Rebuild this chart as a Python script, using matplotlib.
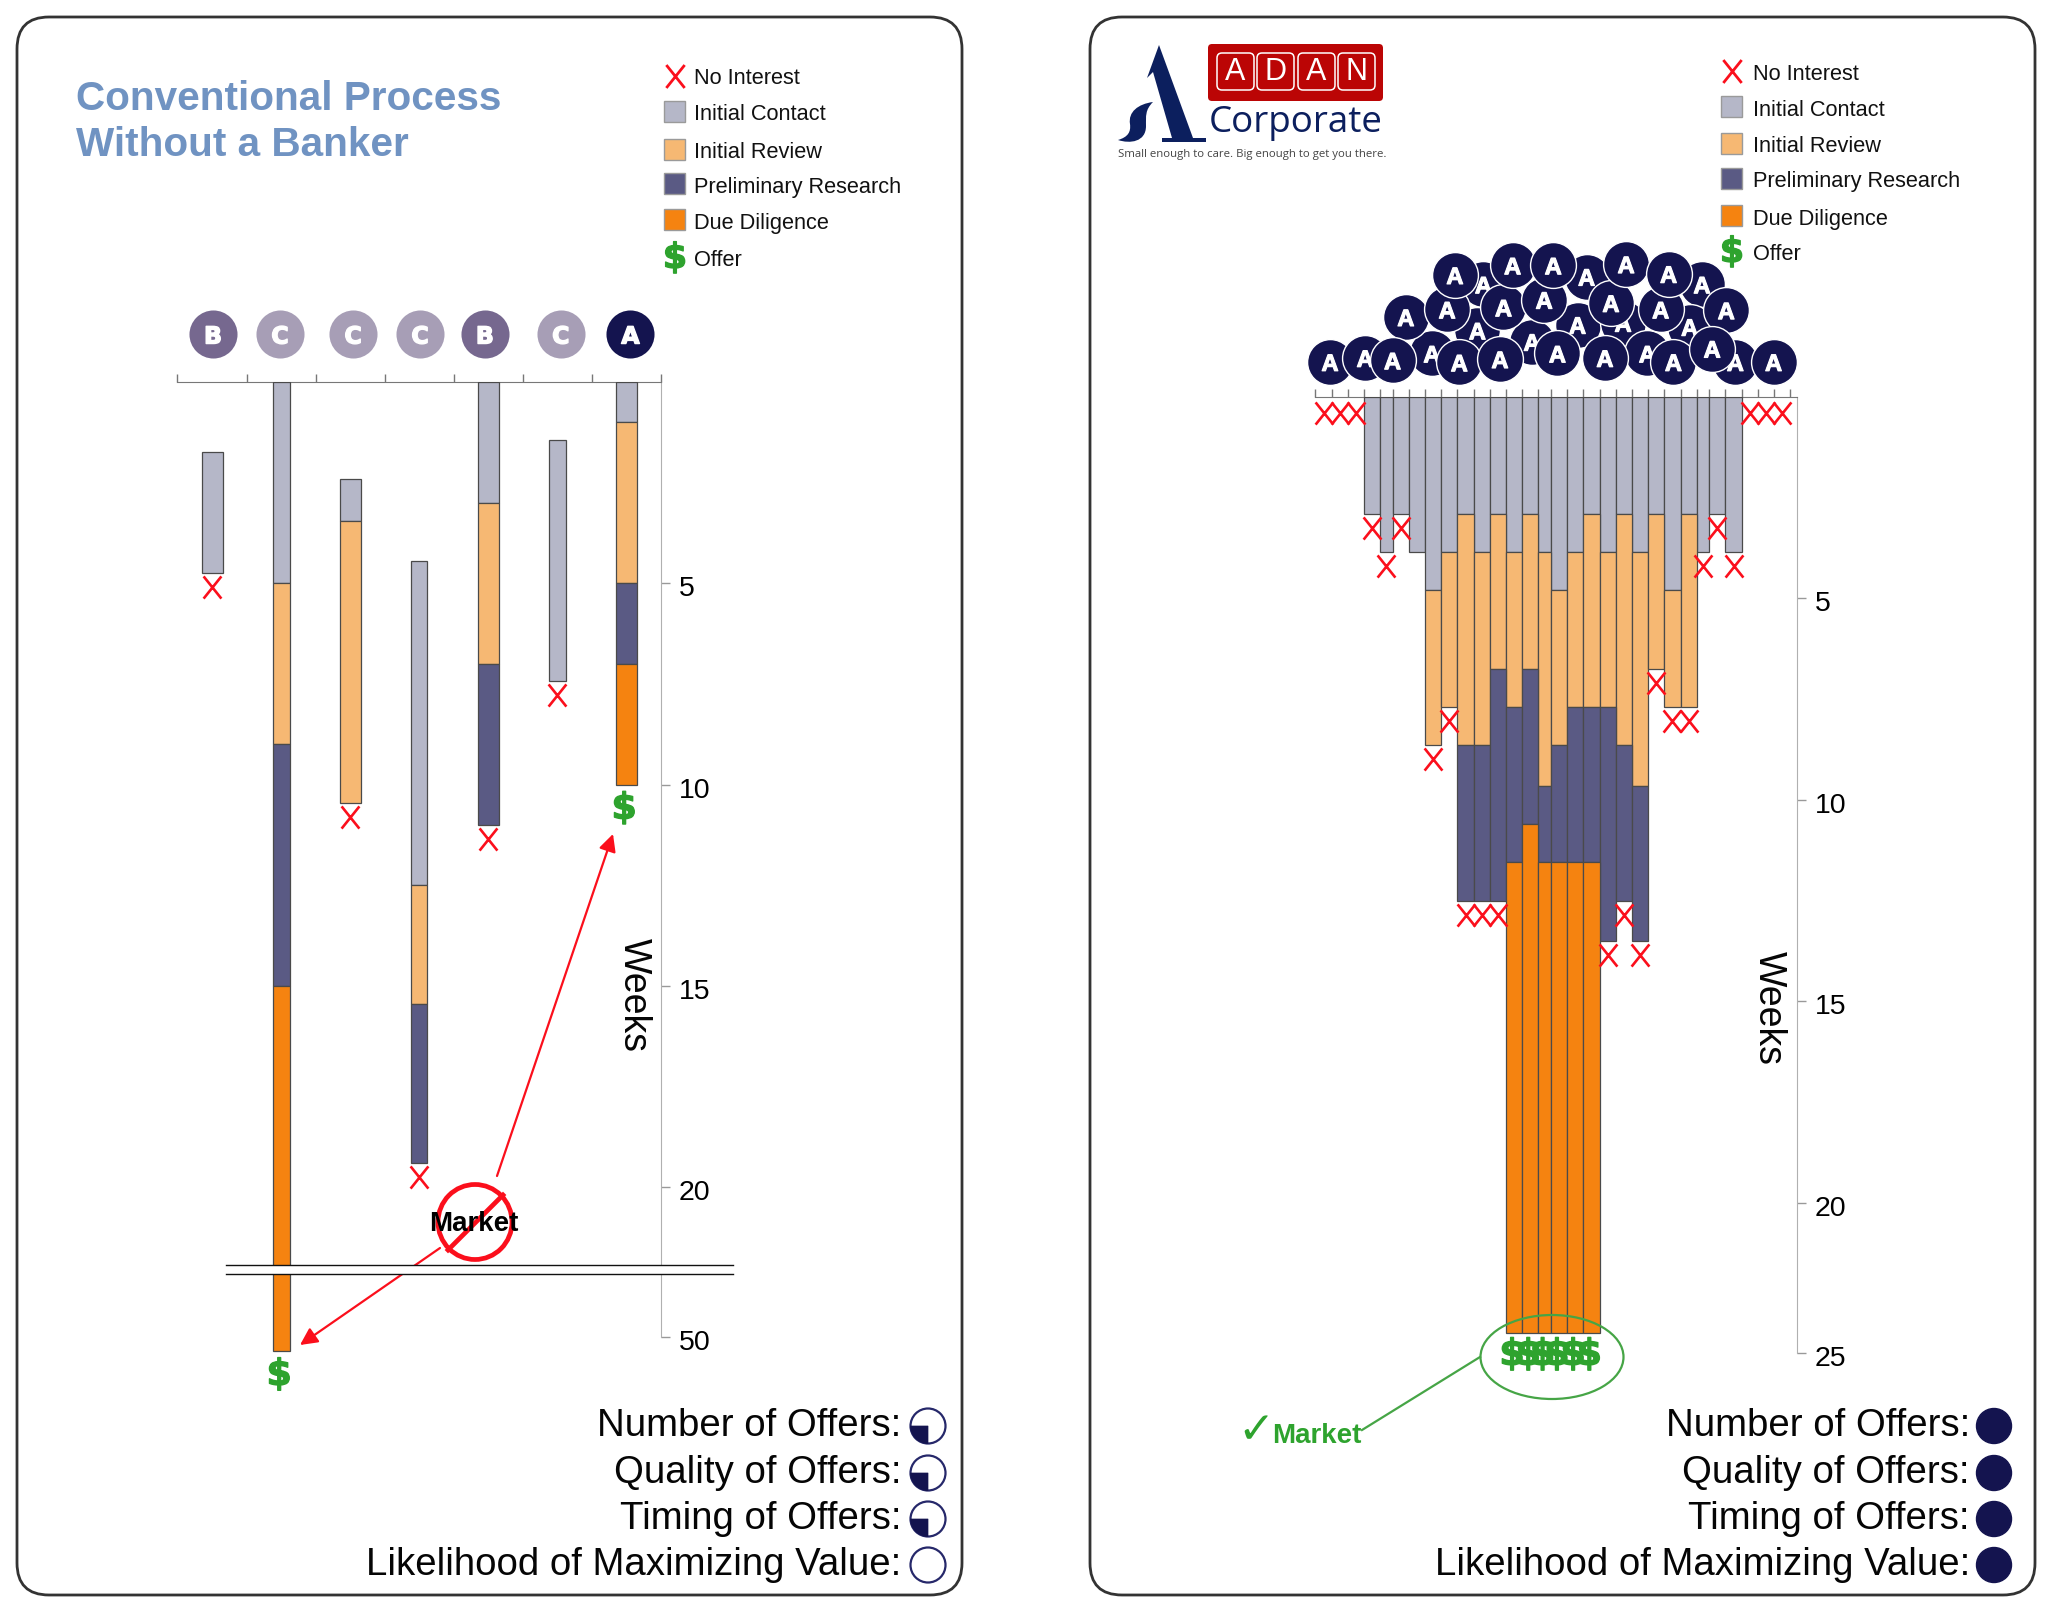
"""Conventional process vs. banker-run process: deal timelines per buyer."""

import matplotlib
matplotlib.use("Agg")
import matplotlib.patheffects as pe
import matplotlib.pyplot as plt
import numpy as np
from matplotlib.patches import Ellipse, FancyBboxPatch, PathPatch, Polygon, Rectangle, Wedge
from matplotlib.path import Path
from matplotlib.transforms import ScaledTranslation

plt.rcParams["font.family"] = ["Liberation Sans", "DejaVu Sans"]

W, H = 2050, 1620

IC_COL, IR_COL, PR_COL, DD_COL = "#b5b7c8", "#f6b873", "#5a5a84", "#f58310"
NAVY = "#14144f"
GREEN = "#2ea32e"
RED = "#fb0f1c"
STAGE_COLS = [IC_COL, IR_COL, PR_COL, DD_COL]
X_MARK = Path([(-0.8, -1), (0.8, 1), (-0.8, 1), (0.8, -1)],
              [Path.MOVETO, Path.LINETO, Path.MOVETO, Path.LINETO])

# ── Left panel data (weeks) ───────────────────────────────────────────────────

left_grades = ["B", "C", "C", "C", "B", "C", "A"]
left_grade_x = [0.01, 0.98, 2.04, 3.01, 3.95, 5.05, 6.06]
left_start = [1.75, 0, 2.4, 4.45, 0, 1.43, 0]
left_ic_end = [4.75, 5, 3.45, 12.5, 3, 7.42, 1]
left_ir_end = [np.nan, 9, 10.45, 15.45, 7, np.nan, 5]
left_pr_end = [np.nan, 15, np.nan, 19.4, 11, np.nan, 7]
left_dd_end = [np.nan, 55, np.nan, np.nan, np.nan, np.nan, 10]
left_result = ["x", "$", "x", "x", "x", "x", "$"]
left_ticks = [5, 10, 15, 20, 50]

# ── Right panel data (weeks) ──────────────────────────────────────────────────

right_start = [0] * 24
right_ic_end = [2.9, 3.85, 2.9, 3.85, 4.8, 3.85, 2.9, 3.85, 2.9, 3.85, 2.9, 3.85,
                4.8, 3.85, 2.9, 3.85, 2.9, 3.85, 2.9, 4.8, 2.9, 3.85, 2.9, 3.85]
right_ir_end = [np.nan, np.nan, np.nan, np.nan, 8.65, 7.7, 8.65, 8.65, 6.75, 7.7, 6.75, 9.65,
                8.65, 7.7, 7.7, 7.7, 8.65, 9.65, 6.75, 7.7, 7.7, np.nan, np.nan, np.nan]
right_pr_end = [np.nan, np.nan, np.nan, np.nan, np.nan, np.nan, 12.5, 12.5, 12.5, 11.55, 10.6, 11.55,
                11.55, 11.55, 11.55, 13.5, 12.5, 13.5, np.nan, np.nan, np.nan, np.nan, np.nan, np.nan]
right_dd_end = [np.nan] * 9 + [24.33] * 6 + [np.nan] * 9
right_result = ["x", "x", "x", "", "x", "x", "x", "x", "x", "$", "$", "$",
                "$", "$", "$", "x", "x", "x", "x", "x", "x", "x", "x", "x"]
right_ticks = [5, 10, 15, 20, 25]

# buyers who passed straight away, either side of the bars
right_pass_left = [0.5, 1.5, 2.5]
right_pass_right = [26.83, 27.83, 28.83]

# buyer badges over the right chart: slot position, weeks above the axis
head_x = [10.37, 16.74, 23.86, 10.0, 13.37, 16.18, 18.99, 23.1, 7.19, 20.49, 25.92,
          5.58, 8.13, 11.61, 14.12, 18.24, 21.31, 25.36,
          8.61, 12.17, 14.68, 19.18, 21.8,
          0.9, 3.07, 4.76, 8.88, 11.39, 14.94, 17.87, 22.1, 24.49, 28.28]
head_y = [-2.78, -2.97, -2.78, -1.64, -1.36, -1.78, -1.83, -1.73, -1.07, -1.07, -0.86,
          -1.97, -2.16, -2.21, -2.4, -2.32, -2.16, -2.14,
          -3.01, -3.25, -3.25, -3.28, -3.04,
          -0.86, -0.96, -0.9, -0.85, -0.93, -1.07, -0.96, -0.86, -1.19, -0.86]

legend_labels = ["No Interest", "Initial Contact", "Initial Review",
                 "Preliminary Research", "Due Diligence", "Offer"]
score_labels = ["Number of Offers:", "Quality of Offers:", "Timing of Offers:",
                "Likelihood of Maximizing Value:"]
left_scores = [0.25, 0.25, 0.25, 0]
right_scores = [1, 1, 1, 1]


# ── Helpers ───────────────────────────────────────────────────────────────────

def px_axes(fig, x0, x1, y0, y1):
    return fig.add_axes([x0 / W, 1 - y1 / H, (x1 - x0) / W, (y1 - y0) / H])


def heavy(col, lw=1.0):
    return [pe.withStroke(linewidth=lw, foreground=col)]


def draw_stages(ax, xs, widths, start, *ends):
    bottoms = np.array(start, dtype=float)
    for col, end in zip(STAGE_COLS, ends):
        end = np.array(end, dtype=float)
        ok = ~np.isnan(end)
        ax.bar(np.array(xs)[ok], end[ok] - bottoms[ok], bottom=bottoms[ok], width=np.array(widths)[ok],
               color=col, edgecolor="#4a4a4a", linewidth=0.9, zorder=3)
        bottoms[ok] = end[ok]
    return bottoms


def draw_results(fig, ax, xs, ends, results, x_gap=10, s_gap=22):
    x_off = ax.transData + ScaledTranslation(0, -x_gap / 100, fig.dpi_scale_trans)
    for x, end, res in zip(xs, ends, results):
        if res == "x":
            ax.plot(x, end, marker=X_MARK, ms=16, mew=1.9, color=RED, mfc="none", ls="none",
                    transform=x_off, clip_on=False, zorder=6)
        elif res == "$":
            ax.annotate("$", (x, end), xytext=(-1.5, -s_gap * 0.72), textcoords="offset points",
                        ha="center", va="center", fontsize=26, fontweight="bold",
                        family="DejaVu Sans", color=GREEN, annotation_clip=False, zorder=6,
                        path_effects=heavy(GREEN))


def style_axis(fig, ax, ticks, top_ticks):
    for name in ["left", "bottom"]:
        ax.spines[name].set_visible(False)
    ax.patch.set_alpha(0)
    ax.spines["top"].set_color("#777777")
    ax.spines["right"].set_color("#b0b0b0")
    ax.spines["right"].set_bounds(0, ticks[-1])
    ax.xaxis.tick_top()
    ax.yaxis.tick_right()
    ax.set_xticks(top_ticks)
    ax.set_xticklabels([])
    ax.tick_params(axis="x", length=6, width=1, color="#777777", direction="out")
    ax.set_yticks(ticks)
    ax.set_yticklabels([str(t) for t in ticks])
    ax.tick_params(axis="y", length=6.5, width=1, color="#999999", labelsize=20.5, pad=6.5)
    ax.minorticks_off()
    nudge = ScaledTranslation(0, -3 / 100, fig.dpi_scale_trans)
    for lab in ax.get_yticklabels():
        lab.set_transform(lab.get_transform() + nudge)


def draw_legend(bg, mx, tx, rows):
    bg.plot(mx, rows[0], marker=X_MARK, ms=16.5, mew=2, color=RED, mfc="none", ls="none")
    for y, col in zip(rows[1:5], STAGE_COLS):
        bg.add_patch(Rectangle((mx - 11, y - 11), 21, 21, fc=col, ec="#9a9a9a", lw=1))
    bg.text(mx, rows[5], "$", color=GREEN, ha="center", va="center", fontsize=25,
            fontweight="bold", family="DejaVu Sans", path_effects=heavy(GREEN))
    for y, lab in zip(rows, legend_labels):
        bg.text(tx, y + 3, lab, ha="left", va="center", fontsize=15.7, color="#111111")


def draw_scores(bg, tx, cx, scores):
    rows = [1426, 1473, 1519, 1565]
    for y, lab, score in zip(rows, score_labels, scores):
        bg.text(tx, y, lab, ha="right", va="center", fontsize=27.6, color="#050505")
        if score >= 1:
            bg.add_patch(Ellipse((cx, y), 35, 35, fc=NAVY, ec=NAVY, lw=1))
            continue
        bg.add_patch(Ellipse((cx, y), 35, 35, fc="white", ec="#26286a", lw=1.6))
        if score > 0:
            bg.add_patch(Wedge((cx, y), 17.5, 90, 90 + 360 * score, fc=NAVY, ec=NAVY, lw=0.5))


def draw_logo(bg):
    bg.add_patch(FancyBboxPatch((1210, 46), 171, 53, boxstyle="round,pad=2,rounding_size=4",
                                fc="#bb0505", ec="none"))
    for cell_x, letter in zip([1217, 1257, 1298, 1338], "ADAN"):
        bg.add_patch(FancyBboxPatch((cell_x + 3, 56), 31, 31, boxstyle="round,pad=3,rounding_size=5",
                                    fc="#bb0505", ec="white", lw=1.1))
        bg.text(cell_x + 18.5, 72, letter, color="white", ha="center", va="center", fontsize=22)
    logo_navy = "#0c1f5e"
    bg.add_patch(Polygon([(1159, 45), (1193, 138), (1206, 138), (1206, 142), (1162, 142), (1162, 138),
                          (1172, 138), (1153, 72), (1147, 78)], fc=logo_navy, ec="none"))
    swoosh = Path([(1153, 102), (1138, 104), (1128, 112), (1130, 124), (1131, 132), (1128, 137), (1118, 140),
                   (1130, 144), (1146, 142), (1146, 126), (1146, 116), (1145, 110), (1153, 102)],
                  [Path.MOVETO] + [Path.CURVE4] * 12)
    bg.add_patch(PathPatch(swoosh, fc=logo_navy, ec="none"))
    bg.text(1209, 132, "Corporate", color=logo_navy, ha="left", va="baseline", fontsize=26.5,
            family="Open Sans")
    bg.text(1118, 154, "Small enough to care. Big enough to get you there.", color="#444444",
            ha="left", va="center", fontsize=8.2, family="Open Sans")


# ── Figure ────────────────────────────────────────────────────────────────────

fig = plt.figure(figsize=(W / 100, H / 100), dpi=100, facecolor="white")

bg = px_axes(fig, 0, W, 0, H)
bg.set_xlim(0, W)
bg.set_ylim(H, 0)
bg.axis("off")
for x0 in [17, 1090]:
    bg.add_patch(FancyBboxPatch((x0 + 32, 49), 945 - 64, 1578 - 64,
                                boxstyle="round,pad=32,rounding_size=32",
                                fc="white", ec="#333333", lw=2))

# left chart
ax_l = px_axes(fig, 177, 661, 382, 1365)
knots_l_w = [-10, 0, 22, 50, 60]
knots_l_px = [-403, 0, 886, 955, 983]
ax_l.set_yscale("function", functions=(lambda v: np.interp(v, knots_l_w, knots_l_px),
                                       lambda p: np.interp(p, knots_l_px, knots_l_w)))
xs_l = np.arange(len(left_grades))
widths_l = np.array([21, 17.5, 21, 16, 21, 17, 21]) / 69
ends_l = draw_stages(ax_l, xs_l, widths_l, left_start, left_ic_end, left_ir_end, left_pr_end, left_dd_end)
ax_l.set_xlim(-0.512, 6.503)
ax_l.set_ylim(60, 0)
style_axis(fig, ax_l, left_ticks, np.r_[-0.512, np.arange(0.5, 6.6, 1)])
draw_results(fig, ax_l, xs_l, ends_l, left_result, x_gap=14, s_gap=24)
grade_cols = {"A": NAVY, "B": "#76688f", "C": "#a79eb6"}
for x, grade in zip(left_grade_x, left_grades):
    ax_l.scatter(x, -1.19, s=1197, color=grade_cols[grade], linewidths=0, clip_on=False, zorder=5)
    ax_l.text(x, -1.19, grade, color="white", ha="center", va="center_baseline", fontsize=17,
              fontweight="bold", family="DejaVu Sans", clip_on=False, zorder=6,
              path_effects=heavy("white"))

# right chart
ax_r = px_axes(fig, 1315.4, 1797, 396.6, 1453)
knots_r_w = [-10, 0, 20, 25, 30]
knots_r_px = [-404, 0, 806, 956, 1056]
ax_r.set_yscale("function", functions=(lambda v: np.interp(v, knots_r_w, knots_r_px),
                                       lambda p: np.interp(p, knots_r_px, knots_r_w)))
widths_r = np.ones(24)
widths_r[[1, 11, 21]] = 0.77
edges_r = 3 + np.r_[0, np.cumsum(widths_r)]
xs_r = edges_r[:-1] + widths_r / 2
ends_r = draw_stages(ax_r, xs_r, widths_r, right_start, right_ic_end, right_ir_end, right_pr_end, right_dd_end)
ax_r.set_xlim(0, (1797 - 1315.4) / 16.2)
ax_r.set_ylim(30, 0)
top_r = np.r_[0, 1, 2, edges_r, edges_r[-1] + 1, edges_r[-1] + 2, edges_r[-1] + 3]
style_axis(fig, ax_r, right_ticks, top_r)
draw_results(fig, ax_r, xs_r, ends_r, right_result, x_gap=14, s_gap=22)
ax_r.plot(right_pass_left + right_pass_right, [0] * 6, marker=X_MARK, ms=16, mew=1.9, color=RED, mfc="none",
          ls="none", transform=ax_r.transData + ScaledTranslation(0, -16 / 100, fig.dpi_scale_trans),
          clip_on=False, zorder=6)
for i, (x, y) in enumerate(zip(head_x, head_y)):
    ax_r.scatter(x, y, s=1090, color=NAVY, edgecolors="white", linewidths=1, clip_on=False, zorder=10 + i)
    ax_r.text(x, y, "A", color="white", ha="center", va="center_baseline", fontsize=17,
              fontweight="bold", clip_on=False, zorder=10.5 + i, path_effects=heavy("white", 0.8))

# annotations on top of both charts
fg = px_axes(fig, 0, W, 0, H)
fg.set_xlim(0, W)
fg.set_ylim(H, 0)
fg.axis("off")
fg.patch.set_alpha(0)

fg.annotate("", xy=(613, 834), xytext=(497, 1176),
            arrowprops=dict(arrowstyle="-|>", color=RED, lw=1.6, mutation_scale=26, shrinkA=0, shrinkB=0))
fg.annotate("", xy=(300, 1345), xytext=(440, 1248),
            arrowprops=dict(arrowstyle="-|>", color=RED, lw=1.6, mutation_scale=26, shrinkA=0, shrinkB=0))
fg.add_patch(Rectangle((226, 1265), 510, 8.5, fc="white", ec="none", zorder=4))
fg.plot([226, 733], [1265, 1265], color="#111111", lw=1, zorder=5)
fg.plot([226, 733], [1273.5, 1273.5], color="#111111", lw=1, zorder=5)

fg.add_patch(Ellipse((475, 1222), 74, 75, fc="none", ec=RED, lw=3.4, zorder=6))
fg.plot([503, 448], [1195, 1250], color=RED, lw=3.4, zorder=6)
fg.text(474, 1224, "Market", ha="center", va="center", fontsize=20, fontweight="bold", color="black", zorder=7)

fg.add_patch(Ellipse((1552, 1357), 143, 84, fc="none", ec="#46a546", lw=1.6, zorder=6))
fg.plot([1480, 1362], [1357, 1430], color="#46a546", lw=1.6, zorder=6)
fg.text(1317, 1436, "Market", color=GREEN, ha="center", va="center", fontsize=20, fontweight="bold")
fg.text(1256, 1431, "\u2713", color=GREEN, ha="center", va="center", fontsize=32, family="DejaVu Sans")

fg.text(634, 995, "Weeks", rotation=270, ha="center", va="center", fontsize=27, color="#050505")
fg.text(1769, 1008, "Weeks", rotation=270, ha="center", va="center", fontsize=27, color="#050505")

# panel furniture
bg.text(76, 110, "Conventional Process", color="#7093c2", fontsize=29.2, fontweight="bold",
        ha="left", va="baseline")
bg.text(76, 156, "Without a Banker", color="#7093c2", fontsize=29.2, fontweight="bold",
        ha="left", va="baseline")
draw_legend(bg, 675, 694, [76, 112, 150, 184, 220, 258])
draw_legend(bg, 1732, 1753, [71, 107, 144, 179, 216, 252])
draw_scores(bg, 901, 928, left_scores)
draw_scores(bg, 1970, 1994, right_scores)
draw_logo(bg)

fig.savefig("out.png", dpi=100)
